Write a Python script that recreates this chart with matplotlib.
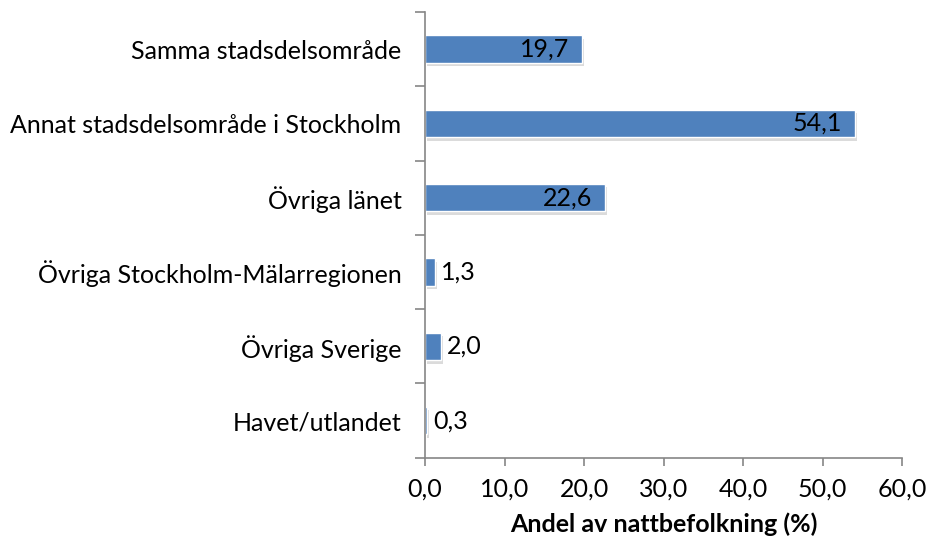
import matplotlib.pyplot as plt
import matplotlib.patheffects as pe
import numpy as np

categories = ['Samma stadsdelsområde', 'Annat stadsdelsområde i Stockholm', 'Övriga länet',
              'Övriga Stockholm-Mälarregionen', 'Övriga Sverige', 'Havet/utlandet']
values = [19.7, 54.1, 22.6, 1.3, 2.0, 0.3]
xticks = [0, 10, 20, 30, 40, 50, 60]

plt.rcParams['font.family'] = ['Lato', 'DejaVu Sans']
fs = 18

fig = plt.figure(figsize=(9.28, 5.43), dpi=100)
ax = fig.add_axes([0.458, 0.157, 0.514, 0.821])

y = np.arange(len(categories))
bars = ax.barh(y, values, height=0.37, color='#4F81BD', edgecolor='white', linewidth=1.0)
for b in bars:
    b.set_path_effects([pe.SimplePatchShadow(offset=(1.5, -2.5), shadow_rgbFace='#b0b0b0', alpha=0.45),
                        pe.Normal()])

for yi, v in zip(y, values):
    txt = f'{v:.1f}'.replace('.', ',')
    if v > 10:
        ax.text(v - 1.6, yi, txt, ha='right', va='center', fontsize=fs, color='black')
    else:
        ax.text(v + 0.7, yi, txt, ha='left', va='center', fontsize=fs, color='black')

ax.set_xlim(0, 60)
ax.set_ylim(len(categories) - 0.5, -0.5)
ax.set_xticks(xticks)
ax.set_xticklabels([f'{t:.1f}'.replace('.', ',') for t in xticks], fontsize=fs)
ax.set_yticks(y)
ax.set_yticklabels(categories, fontsize=fs)
ax.tick_params(axis='y', length=0, pad=17)
ax.set_yticks(np.arange(-0.5, len(categories)), minor=True)
ax.tick_params(axis='y', which='minor', length=7, color='#868686', width=1.2)
ax.tick_params(axis='x', length=6, color='#868686', width=1.2, pad=8)

for s in ['top', 'right']:
    ax.spines[s].set_visible(False)
for s in ['left', 'bottom']:
    ax.spines[s].set_color('#868686')
    ax.spines[s].set_linewidth(1.2)

ax.set_xlabel('Andel av nattbefolkning (%)', fontsize=fs, fontweight='bold', labelpad=9)

fig.savefig('out.png', dpi=100)
